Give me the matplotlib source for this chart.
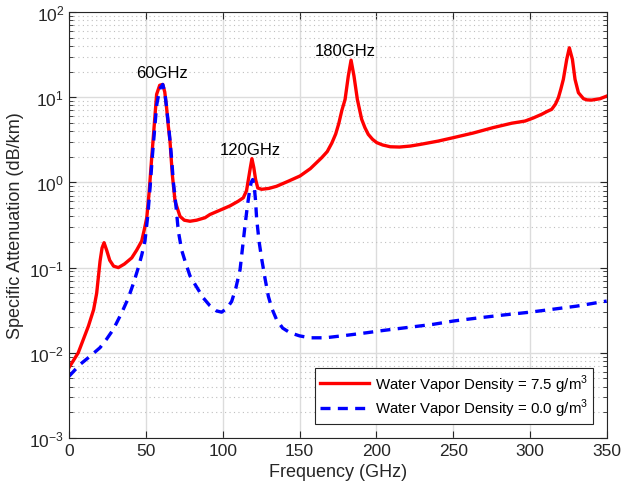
import numpy as np
import matplotlib
matplotlib.use("Agg")
import matplotlib.pyplot as plt
from matplotlib.ticker import LogLocator, FixedLocator

plt.rcParams['font.family'] = ['Liberation Sans', 'DejaVu Sans']
plt.rcParams['mathtext.fontset'] = 'custom'
plt.rcParams['mathtext.rm'] = 'Liberation Sans'

# ---- data (frequency in GHz, attenuation in dB/km) ----
f_wet = [0, 6, 12.6, 16, 18, 20.2, 21.5, 22.8, 24.5, 26.5, 29, 32.1, 36, 40.8, 44, 47.3,
         49, 50.6, 52.2, 53.8, 55.5, 57, 59, 61, 62.3, 63.5, 64.6, 65.7, 67.2, 69, 72.2,
         75, 78.7, 83, 88.5, 91.7, 98, 104.7, 110, 113.4, 115.5, 116.7, 118, 119, 120.2,
         121.4, 122.8, 125.3, 130, 135, 142, 150.3, 157, 164.4, 168, 171, 173.5, 175.5,
         177.5, 179.6, 181.7, 183.5, 185.4, 187.6, 190.4, 192.5, 194.7, 197.5, 200.2, 204,
         209, 215, 222, 228.4, 240, 250, 263, 276, 288, 296.7, 302, 307.5, 311, 314, 316.5,
         318.4, 320, 321.6, 323.8, 325.5, 327.5, 329.2, 331.4, 334.7, 337, 340, 345.5, 349.8]
a_wet = [0.0067, 0.010, 0.0205, 0.032, 0.05, 0.119, 0.17, 0.196, 0.16, 0.122, 0.104, 0.1,
         0.11, 0.13, 0.16, 0.205, 0.28, 0.385, 0.79, 1.95, 4.8, 10.8, 13.8, 14.1, 11.5, 7.5,
         4.6, 3.05, 1.24, 0.60, 0.40, 0.36, 0.35, 0.36, 0.385, 0.42, 0.47, 0.53, 0.6, 0.66,
         0.8, 1.08, 1.5, 1.9, 1.5, 1.08, 0.86, 0.83, 0.85, 0.9, 1.02, 1.19, 1.45, 1.95, 2.3,
         2.9, 3.7, 4.9, 7.0, 9.4, 17.7, 27.2, 17.7, 9.4, 5.5, 4.4, 3.66, 3.2, 2.93, 2.75,
         2.62, 2.6, 2.67, 2.79, 3.05, 3.35, 3.8, 4.4, 4.95, 5.25, 5.7, 6.3, 6.8, 7.2, 8.3,
         9.9, 12.5, 16.2, 27.8, 38, 27.8, 16.2, 11.3, 9.6, 9.3, 9.25, 9.6, 10.3]

f_dry = [0, 7.2, 14, 20.2, 24.5, 28.8, 34.3, 38.6, 42, 45.1, 47.3, 49.4, 51.2, 52.8, 54.2,
         55.7, 57, 59, 61, 62.3, 63.5, 65.2, 66.8, 67.9, 69.5, 71.1, 73.3, 75.5, 78.7, 82,
         87.4, 91.5, 96, 99.3, 102.5, 105.8, 108.5, 111.3, 114.5, 116, 117.3, 118.5, 119.5,
         120.5, 121.3, 122.1, 123.7, 125.4, 127.5, 129.7, 132, 135, 139, 143.8, 150, 156.8,
         166.6, 180, 193.7, 204.5, 220, 237, 250, 265, 280.4, 300, 315, 330.3, 349.8]
a_dry = [0.0053, 0.0073, 0.0092, 0.0115, 0.0145, 0.0188, 0.0295, 0.044, 0.066, 0.1, 0.14,
         0.205, 0.4, 0.9, 2.0, 4.2, 8.0, 12.5, 14.1, 11.5, 7.5, 3.9, 1.86, 1.0, 0.55, 0.27,
         0.16, 0.119, 0.08, 0.0635, 0.044, 0.036, 0.031, 0.030, 0.033, 0.040, 0.057, 0.095,
         0.31, 0.52, 0.76, 1.0, 1.08, 0.9, 0.63, 0.37, 0.2, 0.125, 0.075, 0.046, 0.033,
         0.0246, 0.0195, 0.0172, 0.0158, 0.015, 0.015, 0.016, 0.0172, 0.0183, 0.0198,
         0.0216, 0.0236, 0.0255, 0.0275, 0.030, 0.0325, 0.0353, 0.0405]

peak_labels = ['60GHz', '120GHz', '180GHz']
label_f = [60.5, 118, 179.6]
label_a = [19.6, 2.44, 35]

fig = plt.figure(figsize=(6.21, 4.89), dpi=100)
ax = fig.add_axes([69/621, 1-439/489, (607-69)/621, (439-13)/489])

ax.semilogy(f_wet, a_wet, color='#ff0000', lw=2.4, solid_joinstyle='round',
            label='Water Vapor Density = 7.5 g/m$^3$')
ax.semilogy(f_dry, a_dry, color='#0000ff', lw=2.4, ls=(0, (3, 2.2)),
            label='Water Vapor Density = 0.0 g/m$^3$')

for txt, x, y in zip(peak_labels, label_f, label_a):
    ax.text(x, y, txt, ha='center', va='center', fontsize=12)

ax.set_xlim(0, 350)
ax.set_ylim(1e-3, 1e2)
ax.xaxis.set_major_locator(FixedLocator(np.arange(0, 351, 50)))
ax.yaxis.set_major_locator(LogLocator(base=10, numticks=10))
ax.yaxis.set_minor_locator(LogLocator(base=10, subs=np.arange(2, 10), numticks=20))

ax.grid(True, which='major', color='#dcdcdc', lw=1.0, ls='-')
ax.grid(True, which='minor', axis='y', color='#bfbfbf', lw=0.8, ls=(0, (1, 3)))
ax.set_axisbelow(True)

ax.tick_params(which='both', direction='in', top=True, right=True, labelsize=12.5,
               colors='#262626', labelcolor='#262626')
ax.tick_params(which='major', length=5)
ax.tick_params(which='minor', length=3)
for s in ax.spines.values():
    s.set_color('#262626')
    s.set_linewidth(0.8)

ax.set_xlabel('Frequency (GHz)', fontsize=13, color='#262626')
ax.set_ylabel('Specific Attenuation (dB/km)', fontsize=13, color='#262626')

leg = ax.legend(loc='lower right', fontsize=10.8, fancybox=False, framealpha=1,
                edgecolor='#262626', handlelength=3.3, borderaxespad=0.95,
                labelspacing=0.15, borderpad=0.3, handletextpad=0.4)
leg.get_frame().set_linewidth(0.8)

fig.savefig('out.png', dpi=100)
